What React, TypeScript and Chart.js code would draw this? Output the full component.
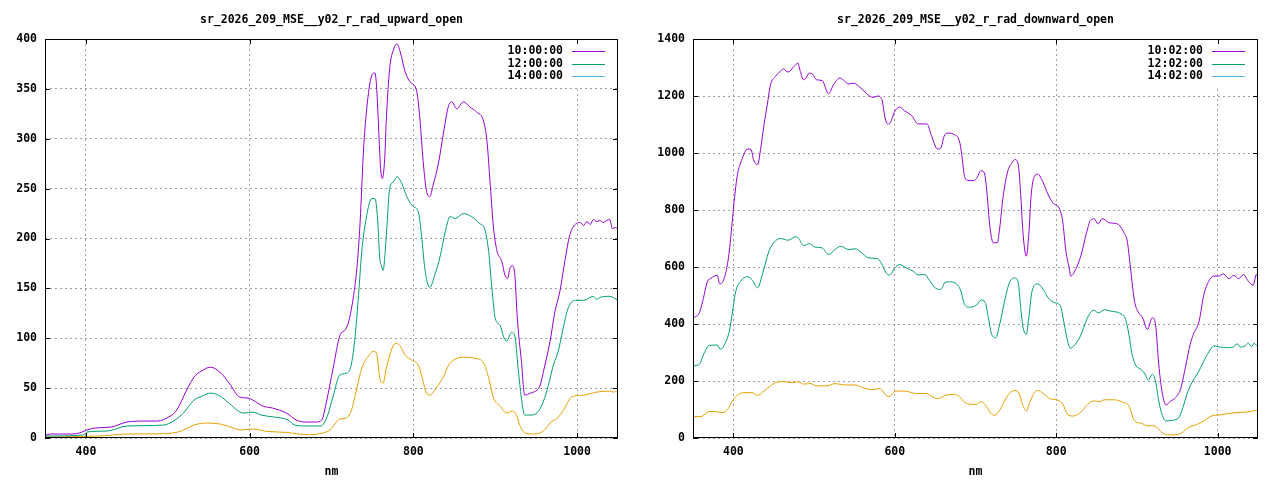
import React, { useEffect, useRef } from "react";
import { Chart, registerables } from "chart.js";

Chart.register(...registerables);

// ---------- data ----------
const xTicks = [400, 600, 800, 1000];
const upYTicks = [0, 50, 100, 150, 200, 250, 300, 350, 400];
const downYTicks = [0, 200, 400, 600, 800, 1000, 1200, 1400];
const upTitle = "sr_2026_209_MSE__y02_r_rad_upward_open";
const downTitle = "sr_2026_209_MSE__y02_r_rad_downward_open";
const upLabels = ["10:00:00", "12:00:00", "14:00:00"];
const downLabels = ["10:02:00", "12:02:00", "14:02:00"];
const xLabel = "nm";

type P = [number, number];

const up10: P[] = [
  [350, 3], [357, 4], [382, 4], [392, 5], [401, 8], [411, 10], [431, 11], [450, 16], [474, 17], [487, 17],
  [503, 22], [511, 28], [523, 48], [533, 62], [541, 67], [552, 71], [565, 65], [575, 55], [588, 41], [598, 40],
  [604, 38], [616, 32], [628, 30], [645, 25], [657, 18], [669, 16], [681, 16], [688, 18], [694, 37], [702, 70],
  [710, 102], [718, 110], [722, 120], [727, 143], [731, 170], [735, 217], [739, 287], [743, 330], [749, 363], [753, 366],
  [755, 353], [758, 303], [760, 270], [762, 260], [765, 280], [767, 320], [771, 370], [776, 390], [780, 395], [784, 387],
  [790, 367], [796, 357], [804, 348], [808, 320], [812, 277], [816, 248], [820, 242], [824, 253], [831, 277], [837, 307],
  [843, 333], [847, 337], [853, 330], [861, 337], [869, 332], [877, 327], [886, 317], [890, 297], [894, 253], [898, 210],
  [902, 188], [908, 177], [912, 163], [915, 160], [918, 170], [921, 173], [924, 163], [927, 120], [932, 77], [936, 43],
  [943, 45], [951, 48], [955, 53], [959, 67], [967, 97], [973, 127], [979, 147], [985, 177], [991, 203], [999, 215],
  [1004, 216], [1008, 213], [1012, 217], [1016, 214], [1020, 219], [1024, 217], [1028, 218], [1032, 216], [1036, 218],
  [1040, 219], [1043, 210], [1047, 211], [1050, 210],
];

const up12: P[] = [
  [350, 2], [397, 3], [401, 6], [426, 7], [450, 12], [495, 13], [507, 17], [519, 25], [532, 38], [542, 42],
  [552, 45], [564, 42], [573, 36], [593, 25], [604, 26], [614, 23], [630, 21], [647, 18], [655, 13], [671, 12],
  [687, 12], [695, 22], [702, 42], [710, 63], [718, 65], [724, 73], [729, 103], [733, 143], [737, 187], [743, 223],
  [749, 240], [753, 240], [756, 223], [759, 180], [761, 173], [763, 168], [767, 203], [771, 250], [776, 257], [780, 262],
  [786, 255], [792, 242], [800, 232], [806, 227], [810, 203], [814, 170], [820, 151], [826, 163], [833, 183], [839, 207],
  [845, 222], [851, 220], [861, 225], [871, 222], [881, 215], [887, 210], [892, 187], [896, 150], [900, 120], [906, 113],
  [910, 102], [914, 97], [920, 106], [924, 102], [928, 70], [932, 40], [936, 23], [945, 23], [953, 27], [959, 37],
  [965, 53], [971, 73], [977, 87], [983, 110], [989, 130], [998, 138], [1008, 138], [1020, 142], [1024, 139],
  [1028, 141], [1040, 142], [1050, 138],
];

const up14: P[] = [
  [350, 1], [397, 1.5], [426, 2.5], [450, 4], [495, 4.3], [515, 6.6], [532, 13], [548, 15], [564, 14], [573, 12],
  [589, 8], [604, 9], [621, 6.6], [645, 5.6], [657, 4.3], [673, 3.3], [685, 4.3], [698, 8], [710, 19], [718, 20],
  [724, 27], [731, 50], [737, 70], [745, 82], [751, 87], [755, 85], [759, 60], [763, 55], [767, 70], [774, 90],
  [779, 95], [784, 92], [790, 83], [798, 78], [806, 73], [810, 63], [816, 45], [820, 43], [828, 50], [837, 62],
  [843, 73], [849, 78], [861, 81], [875, 80], [886, 75], [892, 60], [898, 40], [906, 32], [914, 25], [921, 27],
  [926, 23], [930, 13], [936, 5], [947, 4], [959, 7], [967, 15], [977, 21], [985, 30], [993, 41], [1008, 43],
  [1024, 46], [1040, 47], [1044, 46], [1050, 48],
];

const dn10: P[] = [
  [351, 422], [358, 440], [362, 480], [368, 550], [372, 560], [380, 571], [383, 541], [386, 545], [391, 585], [395, 656],
  [399, 772], [401, 831], [405, 924], [409, 965], [413, 994], [417, 1014], [422, 1012], [425, 977], [430, 959], [434, 1018],
  [438, 1099], [442, 1169], [446, 1239], [452, 1268], [458, 1286], [462, 1295], [468, 1284], [475, 1303], [480, 1315], [483, 1286],
  [487, 1257], [490, 1263], [494, 1280], [498, 1277], [503, 1257], [510, 1254], [518, 1208], [524, 1239], [532, 1263], [536, 1257],
  [543, 1242], [549, 1245], [557, 1230], [567, 1204], [573, 1195], [579, 1200], [584, 1187], [588, 1123], [591, 1102], [594, 1105],
  [600, 1146], [606, 1161], [612, 1148], [621, 1131], [629, 1102], [640, 1102], [645, 1064], [653, 1014], [657, 1017], [661, 1058],
  [666, 1070], [674, 1064], [680, 1043], [683, 994], [686, 924], [690, 904], [697, 903], [701, 910], [707, 938], [711, 930],
  [714, 866], [718, 737], [722, 685], [727, 685], [730, 737], [734, 842], [740, 936], [745, 965], [749, 977], [753, 959],
  [756, 854], [759, 714], [763, 638], [766, 714], [769, 854], [773, 918], [777, 926], [784, 895], [790, 854], [796, 825],
  [804, 805], [808, 761], [812, 656], [816, 597], [818, 568], [825, 597], [831, 644], [837, 714], [843, 766], [847, 769],
  [852, 751], [857, 770], [866, 755], [876, 751], [884, 720], [888, 691], [892, 597], [897, 480], [901, 445], [907, 422],
  [913, 381], [919, 422], [923, 399], [927, 259], [931, 165], [936, 116], [942, 130], [948, 142], [954, 171], [960, 247],
  [966, 329], [970, 364], [977, 410], [983, 504], [989, 550], [995, 568], [1001, 568], [1007, 576], [1014, 559], [1020, 571],
  [1026, 559], [1032, 574], [1038, 550], [1044, 536], [1048, 574], [1050, 560],
];

const dn12: P[] = [
  [351, 253], [358, 259], [364, 299], [370, 325], [380, 326], [384, 311], [391, 340], [395, 375], [399, 445], [403, 515],
  [409, 550], [417, 566], [423, 556], [430, 527], [436, 574], [444, 655], [450, 685], [458, 700], [468, 694], [477, 706],
  [481, 700], [487, 675], [494, 682], [501, 670], [510, 667], [518, 644], [526, 661], [533, 673], [543, 661], [551, 664],
  [559, 650], [567, 632], [579, 629], [584, 609], [590, 576], [594, 572], [600, 597], [606, 609], [614, 597], [623, 585],
  [629, 572], [637, 574], [643, 553], [651, 525], [657, 521], [662, 545], [668, 548], [678, 536], [682, 515], [686, 471],
  [692, 459], [701, 466], [707, 484], [712, 475], [716, 422], [720, 364], [725, 352], [730, 399], [736, 480], [742, 545],
  [749, 562], [753, 545], [756, 457], [759, 387], [763, 364], [766, 422], [770, 515], [777, 541], [784, 521], [790, 492],
  [798, 475], [805, 465], [810, 399], [814, 340], [818, 315], [825, 334], [831, 364], [837, 410], [843, 443], [847, 448],
  [852, 439], [860, 450], [868, 445], [880, 436], [886, 416], [890, 364], [894, 294], [899, 253], [905, 241], [910, 224],
  [914, 203], [919, 224], [923, 200], [927, 130], [931, 83], [936, 60], [944, 62], [952, 72], [957, 107], [962, 154],
  [968, 194], [972, 212], [979, 247], [985, 282], [989, 302], [995, 323], [1003, 319], [1011, 317], [1020, 320], [1024, 331],
  [1028, 319], [1034, 323], [1038, 333], [1042, 320], [1045, 333], [1048, 325], [1050, 325],
];

const dn14: P[] = [
  [351, 75], [360, 75], [370, 93], [380, 92], [386, 89], [393, 101], [399, 130], [405, 150], [413, 159], [423, 159],
  [430, 150], [438, 165], [446, 183], [452, 194], [462, 198], [473, 194], [481, 197], [487, 189], [495, 191], [503, 183],
  [516, 183], [526, 191], [538, 186], [551, 186], [563, 174], [571, 170], [582, 173], [588, 153], [593, 145], [600, 163],
  [608, 165], [616, 163], [627, 156], [639, 156], [647, 144], [653, 138], [664, 151], [674, 153], [680, 145], [686, 127],
  [692, 119], [701, 118], [707, 128], [714, 109], [720, 83], [724, 80], [730, 97], [736, 130], [742, 157], [749, 167],
  [754, 156], [758, 119], [763, 95], [767, 124], [773, 159], [777, 167], [784, 156], [792, 138], [802, 133], [808, 119],
  [814, 83], [821, 77], [831, 92], [839, 119], [847, 130], [853, 128], [860, 134], [872, 134], [884, 124], [890, 113],
  [897, 60], [905, 52], [913, 43], [920, 43], [925, 37], [931, 19], [938, 11], [946, 11], [956, 19], [964, 37],
  [975, 48], [983, 60], [993, 78], [1003, 81], [1016, 87], [1028, 90], [1040, 92], [1048, 97], [1050, 95],
];

const lineColors = ["#9400d3", "#009e73", "#e69f00"];
const keyColors = ["#9400d3", "#009e73", "#56b4e9"];

// ---------- chart ----------
const FAMILY = '"DejaVu Sans Mono", monospace';
const FSIZE = 11.5;
const CSS_FONT = `bold ${FSIZE}px ${FAMILY}`;

function makeDecor(title: string, labels: string[], yTicks: number[]) {
  return {
    id: "decor",
    beforeDatasetsDraw(chart: any) {
      const { ctx, chartArea: a } = chart;
      ctx.save();
      ctx.fillStyle = "#ffffff";
      ctx.fillRect(500, a.top + 1, a.right - 501, 46);
      ctx.restore();
    },
    afterDraw(chart: any) {
      const { ctx, chartArea: a, scales } = chart;
      const xs = scales.x;
      const ys = scales.y;
      ctx.save();
      ctx.strokeStyle = "#000000";
      ctx.lineWidth = 1;
      ctx.beginPath();
      for (const v of xTicks) {
        const px = Math.round(xs.getPixelForValue(v)) + 0.5;
        ctx.moveTo(px, a.bottom);
        ctx.lineTo(px, a.bottom - 5);
        ctx.moveTo(px, a.top);
        ctx.lineTo(px, a.top + 5);
      }
      for (const v of yTicks) {
        const py = Math.round(ys.getPixelForValue(v)) + 0.5;
        ctx.moveTo(a.left, py);
        ctx.lineTo(a.left + 5, py);
        ctx.moveTo(a.right, py);
        ctx.lineTo(a.right - 5, py);
      }
      ctx.stroke();
      ctx.strokeRect(a.left + 0.5, a.top + 0.5, a.right - a.left - 1, a.bottom - a.top - 1);

      ctx.fillStyle = "#000000";
      ctx.font = CSS_FONT;
      ctx.textAlign = "center";
      ctx.textBaseline = "middle";
      const cx = (a.left + a.right) / 2;
      ctx.fillText(title, cx, 20);
      ctx.fillText(xLabel, cx, 472);

      // key
      ctx.textAlign = "right";
      for (let i = 0; i < labels.length; i++) {
        const yy = a.top + 12.3 + i * 12.3;
        ctx.fillStyle = "#000000";
        ctx.fillText(labels[i], a.right - 55, yy);
        ctx.beginPath();
        ctx.strokeStyle = keyColors[i];
        ctx.lineWidth = 1;
        const ly = Math.round(yy) + 0.5;
        ctx.moveTo(a.right - 46, ly);
        ctx.lineTo(a.right - 13, ly);
        ctx.stroke();
      }
      ctx.restore();
    },
  };
}

type PanelProps = {
  title: string;
  labels: string[];
  series: P[][];
  yTicks: number[];
  axisWidth: number;
};

function Panel({ title, labels, series, yTicks, axisWidth }: PanelProps) {
  const ref = useRef<HTMLCanvasElement | null>(null);
  useEffect(() => {
    if (!ref.current) return;
    const font = { family: FAMILY, size: FSIZE, weight: "bold" as const };
    const gridCommon = {
      color: "#a0a0a0",
      lineWidth: 1,
      drawTicks: false,
      tickLength: 0,
    };
    const plain = (v: any) => String(v);
    const chart = new Chart(ref.current, {
      type: "line",
      data: {
        datasets: series.map((s, i) => ({
          label: labels[i],
          data: s.map(([x, y]) => ({ x, y })),
          borderColor: lineColors[i],
          backgroundColor: lineColors[i],
          borderWidth: 1,
          pointRadius: 0,
          fill: false,
          cubicInterpolationMode: "monotone" as const,
        })),
      },
      options: {
        animation: false,
        responsive: true,
        maintainAspectRatio: false,
        events: [],
        layout: { padding: { top: 39, right: 22, left: 0, bottom: 0 } },
        plugins: {
          legend: { display: false },
          title: { display: false },
          tooltip: { enabled: false },
        },
        scales: {
          x: {
            type: "linear",
            min: 350,
            max: 1050,
            afterBuildTicks: (axis: any) => {
              axis.ticks = xTicks.map((v) => ({ value: v }));
            },
            afterFit: (scale: any) => {
              scale.height = 42;
            },
            grid: gridCommon,
            border: { display: false, dash: [2, 3] },
            ticks: { color: "#000", font, padding: 7, maxRotation: 0, autoSkip: false, callback: plain },
          },
          y: {
            type: "linear",
            min: yTicks[0],
            max: yTicks[yTicks.length - 1],
            afterBuildTicks: (axis: any) => {
              axis.ticks = yTicks.map((v) => ({ value: v }));
            },
            afterFit: (scale: any) => {
              scale.width = axisWidth;
            },
            grid: gridCommon,
            border: { display: false, dash: [2, 3] },
            ticks: { color: "#000", font, padding: 8, autoSkip: false, callback: plain },
          },
        },
      },
      plugins: [makeDecor(title, labels, yTicks)],
    } as any);
    return () => chart.destroy();
  }, []);
  return (
    <div style={{ position: "relative", width: 640, height: 480 }}>
      <canvas ref={ref} />
    </div>
  );
}

export default function App() {
  return (
    <div
      style={{
        position: "fixed",
        left: 0,
        top: 0,
        width: 1280,
        height: 480,
        display: "flex",
        background: "#fff",
      }}
    >
      <Panel title={upTitle} labels={upLabels} series={[up10, up12, up14]} yTicks={upYTicks} axisWidth={45} />
      <Panel title={downTitle} labels={downLabels} series={[dn10, dn12, dn14]} yTicks={downYTicks} axisWidth={53} />
    </div>
  );
}
